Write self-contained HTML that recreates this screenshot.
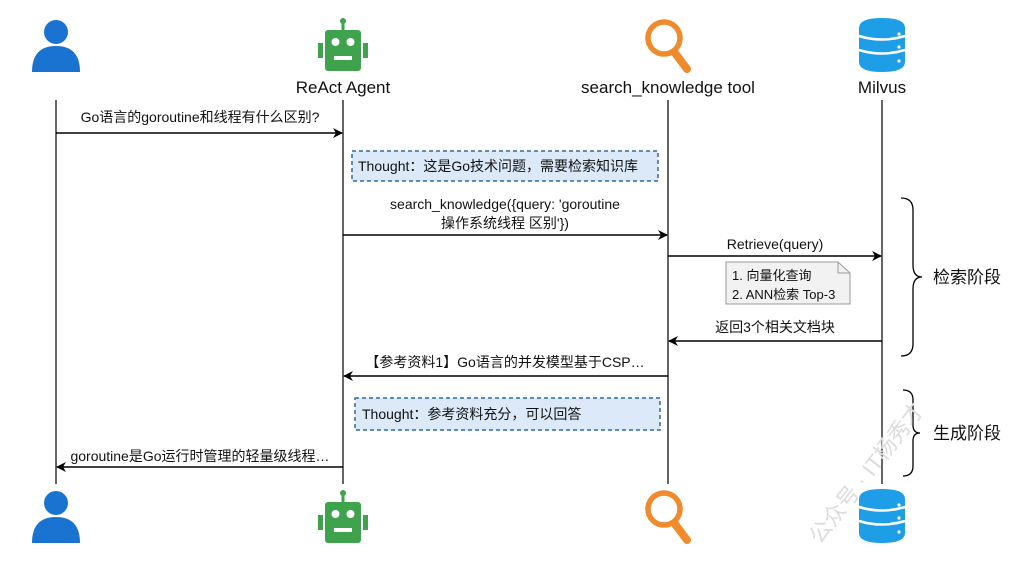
<!DOCTYPE html>
<html><head><meta charset="utf-8"><style>
body{margin:0;background:#fff}
text{font-family:"Liberation Sans","Noto Sans CJK SC",sans-serif;fill:#111}
</style></head><body>
<svg width="1024" height="559" viewBox="0 0 1024 559" xmlns="http://www.w3.org/2000/svg">
<defs>
<marker id="a" markerWidth="10" markerHeight="10" refX="9" refY="5" orient="auto" markerUnits="userSpaceOnUse"><path d="M0,0 L10,5 L0,10 L3,5 z" fill="#000"/></marker>
<g id="user"><circle cx="0" cy="-14" r="12" fill="#1a73d1"/><path d="M-24,26 Q-24,0 0,0 Q24,0 24,26 z" fill="#1a73d1"/></g>
<g id="bot"><circle cx="0" cy="-24" r="3" fill="#3fa34d"/><rect x="-1.5" y="-24" width="3" height="9" fill="#3fa34d"/><rect x="-18" y="-15" width="36" height="41" rx="3" fill="#3fa34d"/><rect x="-25" y="-2" width="5" height="15" fill="#3fa34d"/><rect x="20" y="-2" width="5" height="15" fill="#3fa34d"/><circle cx="-7.5" cy="-3" r="4" fill="#fff"/><circle cx="7.5" cy="-3" r="4" fill="#fff"/><rect x="-9" y="11" width="18" height="4" fill="#fff"/></g>
<g id="mag"><circle cx="-4" cy="-8" r="16" fill="none" stroke="#ef8b2c" stroke-width="5.5"/><line x1="7" y1="7" x2="19" y2="23" stroke="#ef8b2c" stroke-width="8" stroke-linecap="round"/></g>
<g id="db"><path d="M-23,-17 Q-23,-27 0,-27 Q23,-27 23,-17 L23,17 Q23,27 0,27 Q-23,27 -23,17 z" fill="#1e9ee6"/><path d="M-23,-9 Q0,-2 23,-9 M-23,5 Q0,12 23,5" stroke="#fff" stroke-width="2.5" fill="none"/><circle cx="17" cy="-11" r="1.6" fill="#fff"/><circle cx="17" cy="2" r="1.6" fill="#fff"/><circle cx="17" cy="16" r="1.6" fill="#fff"/></g>
</defs>
<use href="#user" x="56" y="46"/><use href="#bot" x="343" y="45"/><use href="#mag" x="668" y="46"/><use href="#db" x="882" y="45"/>
<use href="#user" x="56" y="517"/><use href="#bot" x="343" y="517"/><use href="#mag" x="668" y="517"/><use href="#db" x="882" y="516"/>
<text x="343" y="93" font-size="17" text-anchor="middle">ReAct Agent</text>
<text x="668" y="93" font-size="17" text-anchor="middle">search_knowledge tool</text>
<text x="882" y="93" font-size="17" text-anchor="middle">Milvus</text>
<g stroke="#000" stroke-width="1.2"><line x1="56" y1="100" x2="56" y2="484"/><line x1="343" y1="100" x2="343" y2="484"/><line x1="668" y1="100" x2="668" y2="484"/><line x1="882" y1="100" x2="882" y2="484"/></g>
<g stroke="#000" stroke-width="1.5" marker-end="url(#a)">
<line x1="56" y1="133" x2="342" y2="133"/><line x1="343" y1="235" x2="667" y2="235"/><line x1="668" y1="256" x2="881" y2="256"/><line x1="882" y1="341" x2="669" y2="341"/><line x1="668" y1="376" x2="344" y2="376"/><line x1="343" y1="467" x2="57" y2="467"/></g>
<text x="200" y="122" font-size="14" text-anchor="middle">Go语言的goroutine和线程有什么区别?</text>
<rect x="352" y="151" width="306" height="30" fill="#dbe9f8" stroke="#2d6aa6" stroke-width="1.5" stroke-dasharray="4,3"/>
<text x="358" y="171" font-size="14">Thought：这是Go技术问题，需要检索知识库</text>
<text x="505" y="209" font-size="14" text-anchor="middle">search_knowledge({query: 'goroutine</text>
<text x="505" y="228" font-size="14" text-anchor="middle">操作系统线程 区别'})</text>
<text x="775" y="249" font-size="14" text-anchor="middle">Retrieve(query)</text>
<path d="M726,262 L838,262 L850,273 L850,304 L726,304 z" fill="#f2f2f2" stroke="#999"/>
<path d="M838,262 L838,273 L850,273" fill="none" stroke="#999"/>
<text x="732" y="280" font-size="13">1. 向量化查询</text><text x="732" y="299" font-size="13">2. ANN检索 Top-3</text>
<text x="775" y="332" font-size="14" text-anchor="middle">返回3个相关文档块</text>
<text x="505" y="367" font-size="14" text-anchor="middle">【参考资料1】Go语言的并发模型基于CSP…</text>
<rect x="355" y="398" width="305" height="32" fill="#dbe9f8" stroke="#2d6aa6" stroke-width="1.5" stroke-dasharray="4,3"/>
<text x="362" y="419" font-size="14">Thought：参考资料充分，可以回答</text>
<text x="200" y="461" font-size="14" text-anchor="middle">goroutine是Go运行时管理的轻量级线程…</text>
<path d="M901,198 Q913,198 913,210 L913,265 Q913,277 922,277 Q913,277 913,289 L913,344 Q913,356 901,356" fill="none" stroke="#000" stroke-width="1.3"/>
<text x="933" y="283" font-size="17">检索阶段</text>
<path d="M903,390 Q913,390 913,400 L913,425 Q913,433 920,433 Q913,433 913,441 L913,466 Q913,476 903,476" fill="none" stroke="#000" stroke-width="1.3"/>
<text x="933" y="439" font-size="17">生成阶段</text>
<text x="820" y="545" font-size="22" style="fill:#dcdcdc" transform="rotate(-52 820 545)">公众号 · IT杨秀才</text>
</svg>
</body></html>
